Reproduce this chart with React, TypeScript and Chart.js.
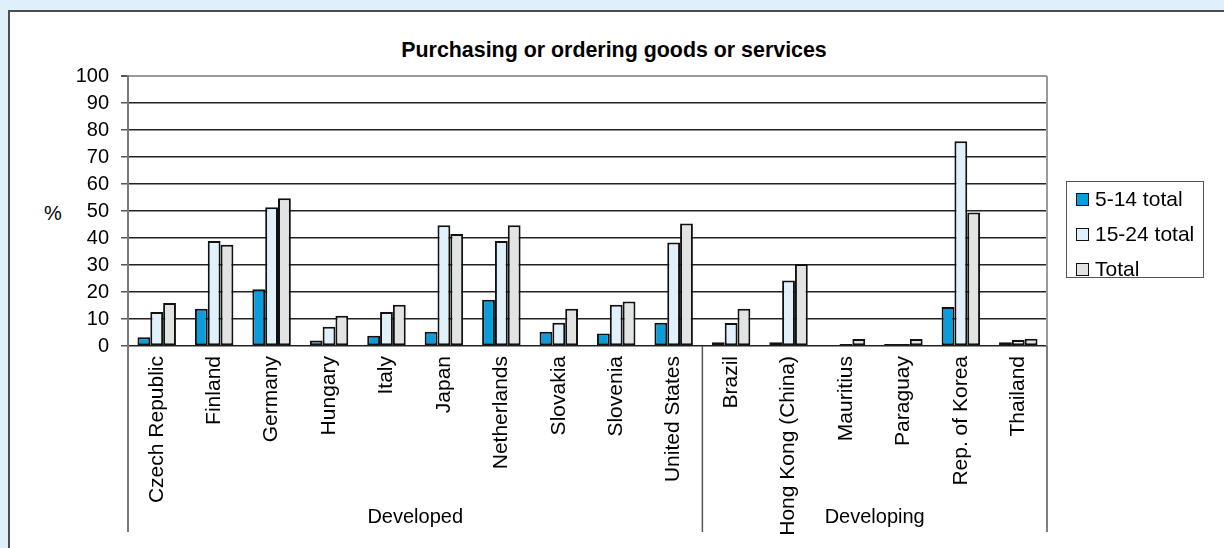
import React, { useEffect, useRef } from 'react';
import { Chart, registerables } from 'chart.js';

Chart.register(...registerables);

const categories = [
  'Czech Republic', 'Finland', 'Germany', 'Hungary', 'Italy', 'Japan', 'Netherlands',
  'Slovakia', 'Slovenia', 'United States', 'Brazil', 'Hong Kong (China)', 'Mauritius',
  'Paraguay', 'Rep. of Korea', 'Thailand',
];
const age5to14 = [3.2, 13.8, 21.0, 2.0, 3.8, 5.3, 17.1, 5.3, 4.6, 8.6, 1.4, 1.4, null, 0.5, 14.4, 1.4];
const age15to24 = [12.6, 38.9, 51.4, 7.1, 12.6, 44.7, 38.9, 8.6, 15.3, 38.3, 8.5, 24.3, 0.5, 0.5, 75.8, 2.2];
const totalAll = [15.9, 37.5, 54.7, 11.2, 15.3, 41.5, 44.7, 13.8, 16.5, 45.4, 13.8, 30.4, 2.6, 2.6, 49.4, 2.7];

const seriesLabels = ['5-14 total', '15-24 total', 'Total'];
const seriesColors = ['#0a9cdb', '#e0f1fb', '#e2e3e3'];

const groupLabels = ['Developed', 'Developing'];
const groupStarts = [0, 10];
const groupEnds = [9, 15];

const yMin = 0;
const yMax = 100;
const yStep = 10;

const chartTitle = 'Purchasing or ordering goods or services';
const yUnit = '%';

const FONT = '"Liberation Sans", Arial, Helvetica, sans-serif';

const groupPlugin = {
  id: 'groupPlugin',
  afterDraw(chart: any) {
    const { ctx, chartArea, scales } = chart;
    const x = scales.x;
    const lineBottom = 532;
    const half = (x.getPixelForValue(1) - x.getPixelForValue(0)) / 2;
    ctx.save();
    // right border of plot area
    ctx.strokeStyle = '#9a9a9a';
    ctx.lineWidth = 2;
    ctx.beginPath();
    ctx.moveTo(chartArea.right, chartArea.top);
    ctx.lineTo(chartArea.right, chartArea.bottom);
    ctx.stroke();
    // group separators
    const bounds: number[] = [x.getPixelForValue(groupStarts[0]) - half];
    groupEnds.forEach((e) => bounds.push(x.getPixelForValue(e) + half));
    bounds.forEach((bx, i) => {
      ctx.strokeStyle = i === 0 ? '#7a7a7a' : '#555';
      ctx.lineWidth = i === 0 ? 2 : 1.5;
      ctx.beginPath();
      ctx.moveTo(bx, chartArea.bottom);
      ctx.lineTo(bx, lineBottom);
      ctx.stroke();
    });
    // group labels
    ctx.fillStyle = '#000';
    ctx.font = '20px ' + FONT;
    ctx.textAlign = 'center';
    ctx.textBaseline = 'middle';
    groupLabels.forEach((lab, i) => {
      const x0 = x.getPixelForValue(groupStarts[i]) - half;
      const x1 = x.getPixelForValue(groupEnds[i]) + half;
      ctx.fillText(lab, (x0 + x1) / 2, 517);
    });
    ctx.restore();
  },
};

function ChartView() {
  const ref = useRef<HTMLCanvasElement | null>(null);
  useEffect(() => {
    if (!ref.current) return;
    const data = [age5to14, age15to24, totalAll];
    const chart = new Chart(ref.current, {
      type: 'bar',
      data: {
        labels: categories,
        datasets: data.map((d, i) => ({
          label: seriesLabels[i],
          data: d as any,
          backgroundColor: seriesColors[i],
          borderColor: '#111',
          borderWidth: 2,
          borderSkipped: false,
          minBarLength: 2,
          categoryPercentage: 0.67,
          barPercentage: 1,
        })),
      },
      options: {
        responsive: false,
        animation: false,
        maintainAspectRatio: false,
        layout: { padding: { left: 0, top: 76, right: 177, bottom: 0 } },
        plugins: {
          legend: { display: false },
          title: { display: false },
          tooltip: { enabled: false },
        },
        scales: {
          x: {
            grid: { display: false, drawTicks: false },
            border: { display: false },
            ticks: {
              autoSkip: false,
              minRotation: 90,
              maxRotation: 90,
              padding: 10,
              color: '#000',
              font: { family: FONT, size: 21 },
            },
            afterFit(scale: any) {
              scale.height = 202;
            },
          },
          y: {
            min: yMin,
            max: yMax,
            ticks: {
              stepSize: yStep,
              padding: 12,
              color: '#000',
              font: { family: FONT, size: 20 },
            },
            grid: {
              color: (c: any) => (c.tick && c.tick.value === yMax ? '#9a9a9a' : '#222'),
              lineWidth: (c: any) => (c.tick && c.tick.value === yMax ? 2 : 1.5),
              tickLength: 7,
              tickColor: '#555',
              drawTicks: true,
            },
            border: { display: true, color: '#7a7a7a', width: 2 },
            afterFit(scale: any) {
              scale.width = 128;
            },
          },
        },
      },
      plugins: [groupPlugin],
    });
    return () => chart.destroy();
  }, []);
  return (
    <canvas
      ref={ref}
      width={1224}
      height={548}
      style={{ position: 'absolute', left: 0, top: 0, width: 1224, height: 548 }}
    />
  );
}

export default function App() {
  const legendRows = seriesLabels.map((lab, i) => (
    <div
      key={lab}
      style={{
        position: 'absolute',
        left: 9,
        top: 17 + i * 35 - 12,
        height: 24,
        display: 'flex',
        alignItems: 'center',
        whiteSpace: 'nowrap',
      }}
    >
      <span
        style={{
          display: 'inline-block',
          width: 11,
          height: 11,
          background: seriesColors[i],
          border: '1.5px solid #111',
          marginRight: 6,
        }}
      />
      <span style={{ fontFamily: FONT, fontSize: 21, color: '#000', lineHeight: '24px' }}>{lab}</span>
    </div>
  ));
  return (
    <div style={{ position: 'fixed', left: 0, top: 0, width: 1224, height: 548, background: '#dff0fa', overflow: 'hidden' }}>
      <div
        style={{
          position: 'absolute',
          left: 8,
          top: 10,
          width: 1300,
          height: 700,
          background: '#fff',
          border: '2px solid #4d4d4d',
          boxSizing: 'border-box',
        }}
      />
      <div
        style={{
          position: 'absolute',
          left: 0,
          top: 38,
          width: 1228,
          textAlign: 'center',
          fontFamily: FONT,
          fontWeight: 'bold',
          fontSize: 21.4,
          lineHeight: '24px',
          color: '#000',
        }}
      >
        {chartTitle}
      </div>
      <div
        style={{
          position: 'absolute',
          left: 44,
          top: 201,
          fontFamily: FONT,
          fontSize: 20,
          lineHeight: '24px',
          color: '#000',
        }}
      >
        {yUnit}
      </div>
      <ChartView />
      <div
        style={{
          position: 'absolute',
          left: 1066,
          top: 181,
          width: 138,
          height: 97,
          border: '1.5px solid #555',
          boxSizing: 'border-box',
          background: '#fff',
        }}
      >
        {legendRows}
      </div>
    </div>
  );
}
